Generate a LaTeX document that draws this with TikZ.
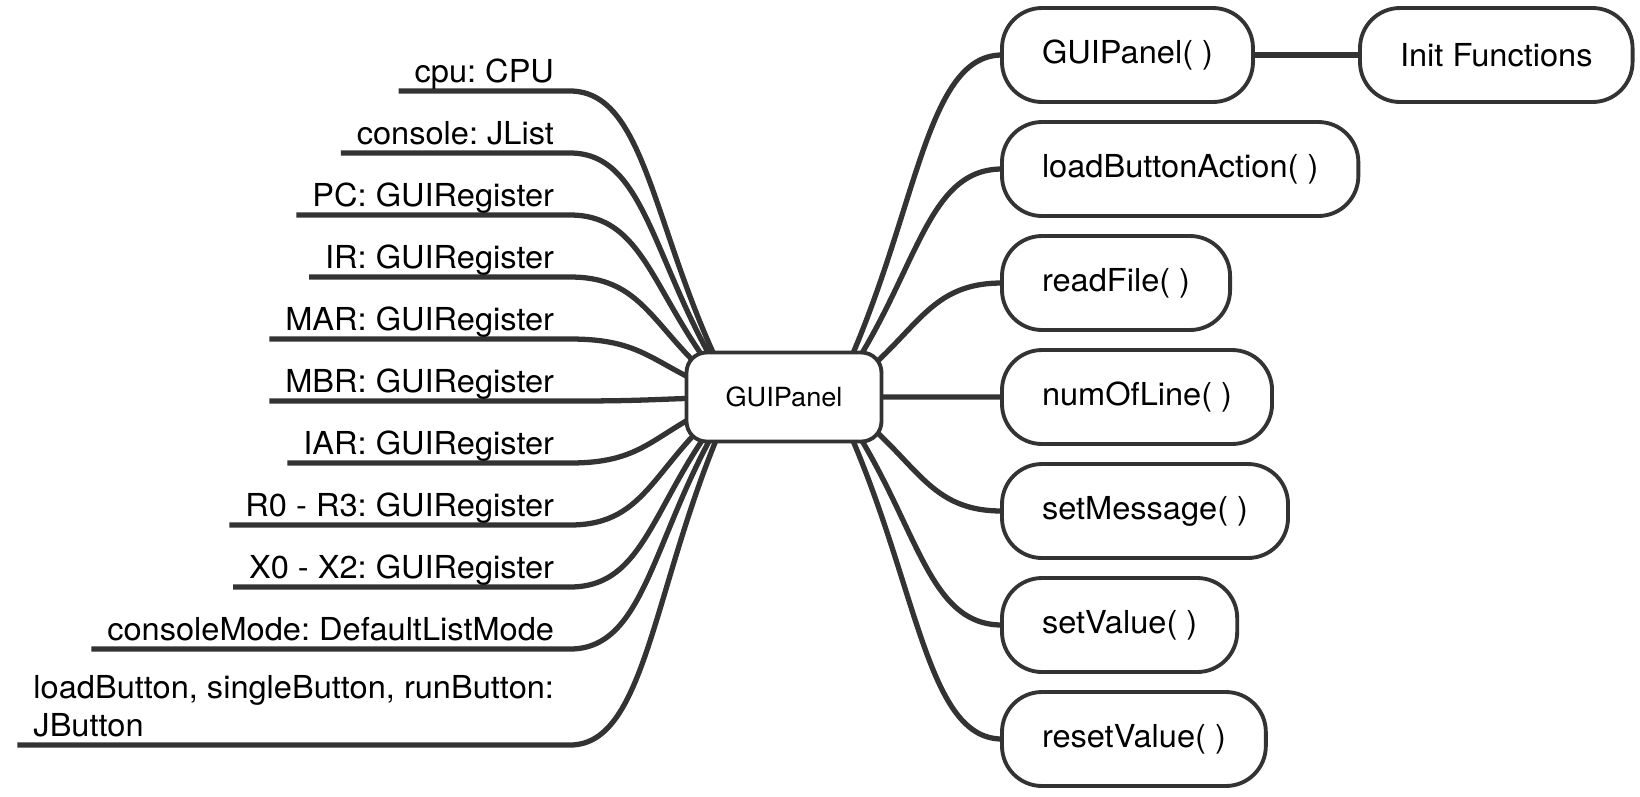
\documentclass[tikz,border=0pt]{standalone}
\usepackage{fontspec}
\setmainfont{TeX Gyre Heros}[FakeStretch=1.03]
\usetikzlibrary{calc,backgrounds}
\definecolor{darkline}{HTML}{333333}
\frenchspacing

\begin{document}
\begin{tikzpicture}[x=0.02cm, y=-0.02cm, line join=round, line cap=round,
		font=\fontsize{18}{21.6}\selectfont,
		link/.style={draw=darkline, line width=3pt},
		attr/.style={inner xsep=0.32cm, inner ysep=1pt, text depth=4.1pt, outer sep=0pt, anchor=south east, align=left},
		meth/.style={draw=darkline, line width=2.2pt, fill=white, rounded corners=0.8cm, minimum height=1.88cm, inner xsep=0.8cm, outer sep=0pt, anchor=west},
		root/.style={draw=darkline, line width=2.2pt, fill=white, rounded corners=0.4cm, minimum width=3.9cm, minimum height=1.78cm, font=\fontsize{15}{18}\selectfont}]
	\useasboundingbox (0,0) rectangle (1640,796);
	% centre
	\node[root] (gp) at (784,397) {GUIPanel};
	\coordinate (hl) at (735,397);
	\coordinate (hr) at (833,397);
	% fields
	\foreach \txt [count=\i] in {cpu: CPU, console: JList, PC: GUIRegister, IR: GUIRegister, MAR: GUIRegister, MBR: GUIRegister, IAR: GUIRegister, R0 - R3: GUIRegister, X0 - X2: GUIRegister, consoleMode: DefaultListMode}
		\node[attr] (a\i) at (570,{29+62*\i}) {\txt};
	\node[attr] (a11) at (570,745) {loadButton, singleButton, runButton:\\JButton};
	% methods
	\foreach \m/\txt [count=\i from 0] in {ctor/GUIPanel( ), load/loadButtonAction( ), read/readFile( ), lines/numOfLine( ), msg/setMessage( ), setv/setValue( ), reset/resetValue( )}
		\node[meth] (\m) at (1002,{55+114*\i}) {\txt};
	\node[meth] (init) at (1360,55) {Init Functions};
	\begin{scope}[on background layer]
		\foreach \i in {1,...,11}
			\draw[link] (a\i.south west) -- (a\i.south east) .. controls ($(a\i.south east)+(80,0)$) and ($(hl)!0.5!(a\i.south east)$) .. (hl);
		\foreach \m in {ctor,load,read,lines,msg,setv,reset}
			\draw[link] (hr) .. controls ($(hr)!0.5!(\m.west)$) and ($(\m.west)+(-80,0)$) .. (\m.west);
		\draw[link] (ctor.east) -- (init.west);
	\end{scope}
\end{tikzpicture}
\end{document}
